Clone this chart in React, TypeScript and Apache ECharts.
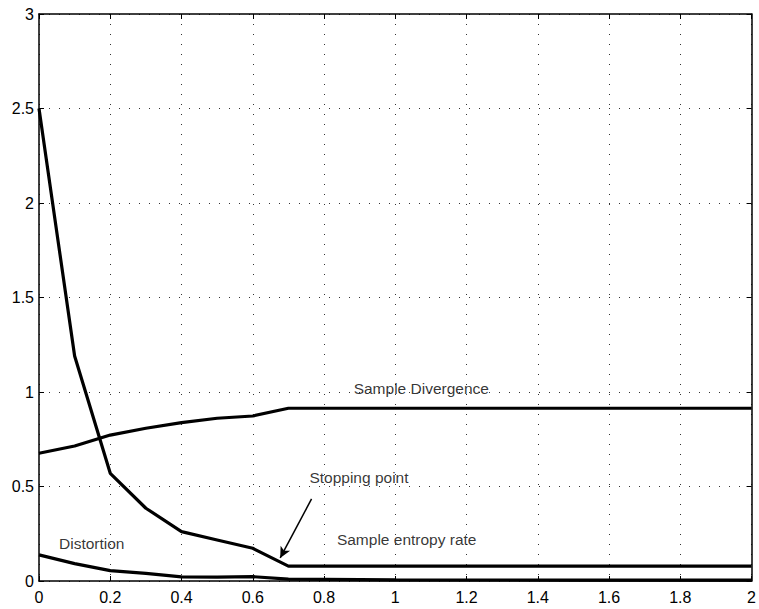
import React, { useEffect, useRef } from "react";
import * as echarts from "echarts";

const xValues = [0, 0.1, 0.2, 0.3, 0.4, 0.5, 0.6, 0.7, 1.0, 1.5, 2.0];
const entropyRate = [2.5, 1.19, 0.57, 0.385, 0.261, 0.217, 0.173, 0.079, 0.079, 0.079, 0.079];
const divergence = [0.676, 0.714, 0.772, 0.808, 0.838, 0.861, 0.873, 0.914, 0.914, 0.914, 0.914];
const distortion = [0.138, 0.092, 0.055, 0.04, 0.022, 0.02, 0.023, 0.01, 0.006, 0.005, 0.005];

const xTicks = { min: 0, max: 2, interval: 0.2 };
const yTicks = { min: 0, max: 3, interval: 0.5 };

const annotations: [number, number, string][] = [
  [1.073, 1.021, "Sample Divergence"],
  [0.898, 0.545, "Stopping point"],
  [1.032, 0.217, "Sample entropy rate"],
  [0.148, 0.199, "Distortion"],
];
const arrowFrom = [0.765, 0.434];
const arrowTo = [0.677, 0.122];

const FONT = "'Liberation Sans', Arial, Helvetica, sans-serif";

function pairs(ys: number[]) {
  return xValues.map((x, i) => [x, ys[i]]);
}

export default function App() {
  const ref = useRef<HTMLDivElement>(null);
  useEffect(() => {
    if (!ref.current) return;
    const chart = echarts.init(ref.current, undefined, { renderer: "svg" });
    const axisLine = { show: true, onZero: false, lineStyle: { color: "#000", width: 1.5 } };
    const axisTick = { show: true, inside: true, length: 5, lineStyle: { color: "#000", width: 1 } };
    const splitLine = { show: true, lineStyle: { color: "#333", width: 1, type: [1, 9] as any } };
    const lineSeries = (name: string, ys: number[]) => ({
      name,
      type: "line",
      data: pairs(ys),
      showSymbol: false,
      symbol: "none",
      lineStyle: { color: "#000", width: 3.2 },
      z: 3,
    });
    chart.setOption({
      animation: false,
      backgroundColor: "#fff",
      textStyle: { fontFamily: FONT },
      grid: { left: 39, right: 4, top: 14, bottom: 28, containLabel: false },
      xAxis: [
        {
          type: "value",
          position: "bottom",
          ...xTicks,
          axisLine,
          axisTick,
          splitLine,
          axisLabel: { color: "#000", fontSize: 16, fontFamily: FONT, margin: 8 },
        },
        {
          type: "value",
          position: "top",
          ...xTicks,
          axisLine,
          axisTick,
          splitLine: { show: false },
          axisLabel: { show: false },
        },
      ],
      yAxis: [
        {
          type: "value",
          position: "left",
          ...yTicks,
          axisLine,
          axisTick,
          splitLine,
          axisLabel: { color: "#000", fontSize: 16, fontFamily: FONT, margin: 5 },
        },
        {
          type: "value",
          position: "right",
          ...yTicks,
          axisLine,
          axisTick,
          splitLine: { show: false },
          axisLabel: { show: false },
        },
      ],
      series: [
        {
          ...lineSeries("Sample entropy rate", entropyRate),
          markLine: {
            silent: true,
            symbol: ["none", "arrow"],
            symbolSize: [8, 11],
            lineStyle: { color: "#000", width: 1.5, type: "solid" },
            label: { show: false },
            data: [[{ coord: arrowFrom }, { coord: arrowTo }]],
          },
        },
        lineSeries("Sample Divergence", divergence),
        lineSeries("Distortion", distortion),
        {
          type: "scatter",
          data: annotations,
          symbolSize: 1,
          itemStyle: { color: "transparent" },
          label: {
            show: true,
            position: "inside",
            formatter: (p: any) => p.data[2],
            color: "#000",
            fontSize: 15.5,
            fontFamily: FONT,
          },
          z: 5,
        },
      ],
    });
    return () => chart.dispose();
  }, []);
  return (
    <div
      ref={ref}
      style={{ position: "fixed", left: 0, top: 0, width: 759, height: 609, background: "#fff" }}
    />
  );
}
